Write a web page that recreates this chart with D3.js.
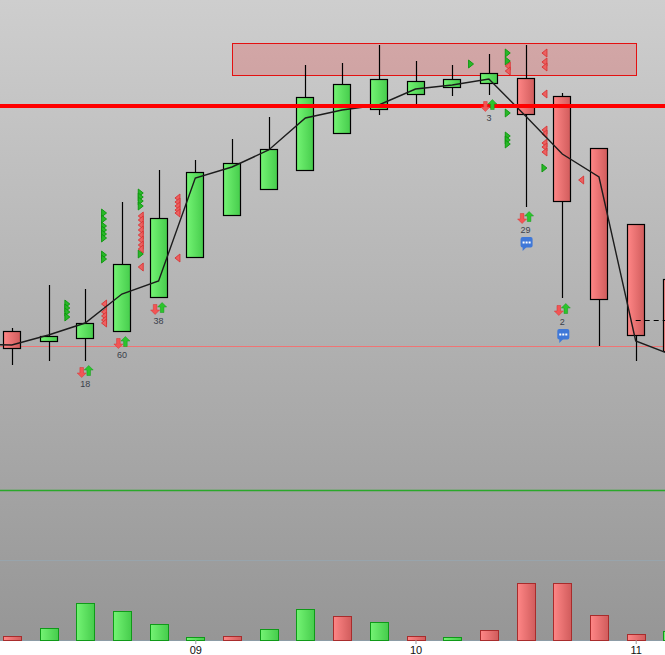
<!DOCTYPE html>
<html>
  <head>
    <meta charset="utf-8">
    <title>Candlestick chart</title>
    <script src="https://d3js.org/d3.v7.min.js"></script>
    <style>
      html, body { margin: 0; padding: 0; background: #fff; overflow: hidden; }
      svg { display: block; }
      .count { font: 9px "Liberation Sans", sans-serif; fill: #3a3f4a; text-anchor: middle; }
      .tick text { font: 11px "Liberation Sans", sans-serif; fill: #111; }
      .tick line { stroke: #999; }
    </style>
  </head>
  <body>
    <div id="chart"></div>
    <script>
      // candles, one per session
      var opens  = [159, 149, 152, 159, 193, 233, 275, 301, 320, 357, 381, 396, 403, 407, 412, 394, 342, 266, 211];
      var closes = [142, 154, 167, 226, 272, 318, 327, 341, 393, 406, 411, 409, 411, 417, 376, 289, 191, 155, 139];
      var highs  = [162, 205, 201, 288, 320, 330, 351, 373, 425, 427, 445, 429, 425, 436, 445, 397, 342, 266, 211];
      var lows   = [125, 129, 129, 159, 193, 233, 275, 301, 320, 357, 375, 386, 394, 395, 283, 192, 144, 129, 139];

      // black average line, starts one session before the first candle
      var avgLine = [146, 145, 155, 167, 196, 209, 312, 323, 340, 372, 380, 385, 401, 405, 411, 374, 336, 313, 149, 135];

      // volume pane
      var volumes = [4, 12, 37, 29, 16, 3, 4, 11, 31, 24, 18, 4, 3, 10, 57, 57, 25, 6, 9];
      var volumeUp = [0, 1, 1, 1, 1, 1, 0, 1, 1, 0, 1, 0, 1, 0, 0, 0, 0, 0, 1];

      // axis
      var tickIndexes = [5, 11, 17];
      var tickLabels = ["09", "10", "11"];

      // levels
      var zoneLow = 414.5, zoneHigh = 447, zoneFrom = 6, zoneTo = 17;
      var resistance = 384;
      var support = 144;
      var dashedLevel = 170, dashedFrom = 17, dashedTo = 18;
      var paneLine = 0;

      // small triangles, sitting between the candles
      var buySlots = [1.5, 1.5, 1.5, 1.5, 2.5, 2.5, 2.5, 2.5, 2.5, 2.5, 2.5, 2.5, 3.5, 3.5, 3.5, 3.5, 3.5, 12.5, 13.5, 13.5, 13.5, 13.5, 13.5, 13.5, 14.5];
      var buyValues = [186, 182, 178, 173, 277, 271, 264, 260, 256, 252, 235, 231, 297, 293, 289, 284, 236, 426, 437, 429, 377, 354, 350, 346, 322];
      var sellSlots = [2.5, 2.5, 2.5, 2.5, 2.5, 3.5, 3.5, 3.5, 3.5, 3.5, 3.5, 3.5, 3.5, 3.5, 4.5, 4.5, 4.5, 4.5, 4.5, 4.5, 13.5, 13.5, 14.5, 14.5, 14.5, 14.5, 14.5, 14.5, 14.5, 14.5, 14.5, 15.5];
      var sellValues = [186, 178, 174, 170, 167, 274, 270, 265, 260, 255, 250, 245, 241, 223, 292, 288, 284, 280, 277, 232, 424, 419, 437, 428, 423, 396, 360, 356, 347, 343, 338, 310];

      // trade arrows with their count under them
      var countIndexes = [2, 3, 4, 13, 14, 15];
      var countValues = [103, 132, 166, 369, 257, 165];
      var countLabels = ["18", "60", "38", "3", "29", "2"];

      // chat bubbles
      var chatIndexes = [14, 15];
      var chatValues = [247, 155];

      var width = 665, height = 655;
      var paneBottom = 640;

      var svg = d3.select("#chart")
        .append("svg")
        .attr("width", width)
        .attr("height", height);

      var x = d3.scaleLinear().domain([0, 18]).range([11.8, 672.4]);
      var y = d3.scaleLinear().domain([0, 490]).range([490, 0]);
      var yVol = d3.scaleLinear().domain([0, 80]).range([paneBottom, paneBottom - 80]);

      var defs = svg.append("defs");

      function addGradient(id, stops, horizontal) {
        var g = defs.append("linearGradient")
          .attr("id", id)
          .attr("x1", 0).attr("y1", 0)
          .attr("x2", horizontal ? 1 : 0).attr("y2", horizontal ? 0 : 1);
        g.append("stop").attr("offset", "0%").attr("stop-color", stops[0]);
        g.append("stop").attr("offset", "100%").attr("stop-color", stops[1]);
      }

      addGradient("bg", ["#cecece", "#969696"], false);
      addGradient("up", ["#74f474", "#46cc4c"], true);
      addGradient("down", ["#ff8686", "#d05c5c"], true);

      svg.append("rect")
        .attr("width", width)
        .attr("height", paneBottom)
        .attr("fill", "url(#bg)");

      // pane lines
      svg.append("line")
        .attr("x1", 0).attr("x2", width)
        .attr("y1", y(paneLine) + 0.5).attr("y2", y(paneLine) + 0.5)
        .attr("stroke", "#2aa82a")
        .attr("stroke-width", 1.3);
      svg.append("line")
        .attr("x1", 0).attr("x2", width)
        .attr("y1", yVol(80) + 0.5).attr("y2", yVol(80) + 0.5)
        .attr("stroke", "#98a4ac");
      svg.append("line")
        .attr("x1", 0).attr("x2", width)
        .attr("y1", paneBottom + 0.5).attr("y2", paneBottom + 0.5)
        .attr("stroke", "#8d9ca6");

      // resistance zone
      svg.append("rect")
        .attr("x", x(zoneFrom) + 0.3)
        .attr("y", y(zoneHigh))
        .attr("width", x(zoneTo) - x(zoneFrom))
        .attr("height", y(zoneLow) - y(zoneHigh))
        .attr("fill", "rgba(230,84,84,0.3)")
        .attr("stroke", "#e41010")
        .attr("shape-rendering", "crispEdges");

      // thin support line
      svg.append("line")
        .attr("x1", 0).attr("x2", width)
        .attr("y1", y(support) + 0.5).attr("y2", y(support) + 0.5)
        .attr("stroke", "#f07474");

      // volume bars
      svg.selectAll(".vol")
        .data(volumes)
        .enter()
        .append("rect")
        .attr("class", "vol")
        .attr("x", function(d, i) { return Math.round(x(i)) - 9 + 0.5; })
        .attr("y", function(d) { return yVol(d) + 0.5; })
        .attr("width", 18)
        .attr("height", function(d) { return yVol(0) - yVol(d); })
        .attr("fill", function(d, i) { return volumeUp[i] ? "url(#up)" : "url(#down)"; })
        .attr("stroke", function(d, i) { return volumeUp[i] ? "#0f9a18" : "#a82c2c"; });

      // triangles
      function triangles(slots, values, dir, fill, stroke) {
        svg.append("g").selectAll("path")
          .data(values)
          .enter()
          .append("path")
          .attr("d", "M" + (-2.5 * dir) + ",-4L" + (2.5 * dir) + ",0L" + (-2.5 * dir) + ",4Z")
          .attr("transform", function(d, i) {
            return "translate(" + (x(slots[i]) + 0.5) + "," + y(d) + ")";
          })
          .attr("fill", fill)
          .attr("stroke", stroke)
          .attr("stroke-width", 0.9);
      }

      triangles(buySlots, buyValues, 1, "#28b828", "#0c960c");
      triangles(sellSlots, sellValues, -1, "#ec6060", "#d83434");

      // candles
      var candles = svg.selectAll(".candle")
        .data(opens)
        .enter()
        .append("g")
        .attr("class", "candle")
        .attr("transform", function(d, i) { return "translate(" + Math.round(x(i)) + ",0)"; });

      candles.append("line")
        .attr("x1", 0.5).attr("x2", 0.5)
        .attr("y1", function(d, i) { return y(highs[i]); })
        .attr("y2", function(d, i) { return y(lows[i]); })
        .attr("stroke", "#000")
        .attr("stroke-width", 1.2);

      candles.append("rect")
        .attr("x", -8.5)
        .attr("y", function(d, i) { return y(Math.max(opens[i], closes[i])) + 0.5; })
        .attr("width", 17)
        .attr("height", function(d, i) { return Math.abs(y(opens[i]) - y(closes[i])); })
        .attr("fill", function(d, i) { return closes[i] > opens[i] ? "url(#up)" : "url(#down)"; })
        .attr("stroke", "#000")
        .attr("stroke-width", 1.2);

      // dashed level on the last candles
      svg.append("line")
        .attr("x1", x(dashedFrom)).attr("x2", x(dashedTo))
        .attr("y1", y(dashedLevel) + 0.5).attr("y2", y(dashedLevel) + 0.5)
        .attr("stroke", "#000")
        .attr("stroke-dasharray", "5,4");

      // average line
      var line = d3.line()
        .x(function(d, i) { return x(i - 1); })
        .y(function(d) { return y(d); });

      svg.append("path")
        .datum(avgLine)
        .attr("d", line)
        .attr("fill", "none")
        .attr("stroke", "#1c1c1c")
        .attr("stroke-width", 1.4);

      // thick red level
      svg.append("line")
        .attr("x1", 0).attr("x2", width)
        .attr("y1", y(resistance)).attr("y2", y(resistance))
        .attr("stroke", "#ff0000")
        .attr("stroke-width", 4);

      // arrows and counts
      var arrow = "M0,-5L4.5,-0.5L1.8,-0.5L1.8,5L-1.8,5L-1.8,-0.5L-4.5,-0.5Z";
      var counts = svg.selectAll(".counts")
        .data(countIndexes)
        .enter()
        .append("g")
        .attr("transform", function(d, i) {
          return "translate(" + x(d) + "," + y(countValues[i]) + ")";
        });

      counts.append("path")
        .attr("d", arrow)
        .attr("transform", "translate(3.5,-16.5)")
        .attr("fill", "#2cc52c")
        .attr("stroke", "#149a1c")
        .attr("stroke-width", 0.5);
      counts.append("path")
        .attr("d", arrow)
        .attr("transform", "translate(-3.5,-14.5) rotate(180)")
        .attr("fill", "#f25555")
        .attr("stroke", "#d83030")
        .attr("stroke-width", 0.5);
      counts.append("text")
        .attr("class", "count")
        .text(function(d, i) { return countLabels[i]; });

      // chat bubbles
      var chats = svg.selectAll(".chat")
        .data(chatIndexes)
        .enter()
        .append("g")
        .attr("transform", function(d, i) {
          return "translate(" + (x(d) + 1) + "," + y(chatValues[i]) + ")";
        });

      chats.append("path")
        .attr("d", "M-4,4L-4,8L0,4Z")
        .attr("fill", "#3f78d8");
      chats.append("rect")
        .attr("x", -6).attr("y", -6)
        .attr("width", 12).attr("height", 10.5)
        .attr("rx", 2)
        .attr("fill", "#3f78d8");
      chats.selectAll("circle")
        .data([-3, 0, 3])
        .enter()
        .append("rect")
        .attr("x", function(d) { return d - 1; })
        .attr("y", -1.5)
        .attr("width", 2).attr("height", 2)
        .attr("fill", "#fff");

      // time axis
      var axis = d3.axisBottom(x)
        .tickValues(tickIndexes)
        .tickFormat(function(d, i) { return tickLabels[i]; })
        .tickSize(4)
        .tickPadding(2);

      svg.append("g")
        .attr("transform", "translate(0," + paneBottom + ")")
        .call(axis)
        .call(function(g) { g.select(".domain").remove(); });
    </script>
  </body>
</html>
